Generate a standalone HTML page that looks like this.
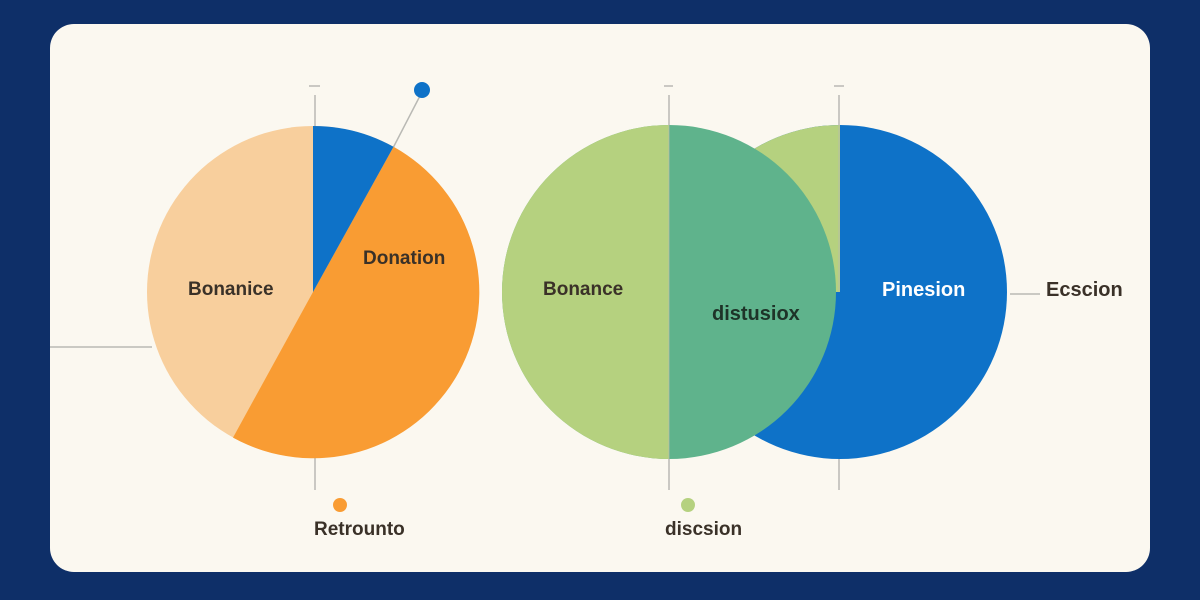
<!DOCTYPE html>
<html><head><meta charset="utf-8"><style>
html,body{margin:0;padding:0;width:1200px;height:600px;background:#0e2f68;overflow:hidden}
svg{display:block}
text{font-family:"Liberation Sans",sans-serif;font-size:19px;font-weight:bold;fill:#3a3128}
</style></head><body>
<svg width="1200" height="600" viewBox="0 0 1200 600">
<rect x="0" y="0" width="1200" height="600" fill="#0e2f68"/>
<rect x="50" y="24" width="1100" height="548" rx="24" fill="#fbf8f0"/>
<g stroke="#b9b9b4" stroke-width="1.5" fill="none">
<line x1="315" y1="95" x2="315" y2="130"/><line x1="315" y1="455" x2="315" y2="490"/>
<line x1="669" y1="95" x2="669" y2="130"/><line x1="669" y1="455" x2="669" y2="490"/>
<line x1="839" y1="95" x2="839" y2="130"/><line x1="839" y1="455" x2="839" y2="490"/>
<line x1="50" y1="347" x2="152" y2="347"/>
<line x1="1010" y1="294" x2="1040" y2="294"/>
<line x1="422" y1="92" x2="393" y2="148"/>
<line x1="309" y1="86" x2="320" y2="86"/><line x1="664" y1="86" x2="673" y2="86"/><line x1="834" y1="86" x2="844" y2="86"/>
</g>
<circle cx="313" cy="292" r="166" fill="#f8cf9d"/>
<path d="M313,292 L393.5,146.8 A166,166 0 0 1 233,437.6 Z" fill="#f99c33"/>
<path d="M313,292 L313,126 A166,166 0 0 1 393.5,146.8 Z" fill="#0e72c8"/>
<circle cx="840" cy="292" r="167" fill="#0e72c8"/>
<path d="M840,292 L840,125 A167,167 0 0 0 673,292 Z" fill="#b5d17f"/>
<circle cx="669" cy="292" r="167" fill="#5fb38c"/>
<path d="M669,125 A167,167 0 0 0 669,459 Z" fill="#b5d17f"/>
<g stroke="#b9b9b4" stroke-width="1.2" fill="none" opacity="0.6">
<line x1="669" y1="125" x2="669" y2="459"/><line x1="839" y1="125" x2="839" y2="292"/>
</g>
<circle cx="422" cy="90" r="8" fill="#0e72c8"/>
<circle cx="340" cy="505" r="7" fill="#f99c33"/>
<circle cx="688" cy="505" r="7" fill="#b5d17f"/>
<text x="188" y="295">Bonanice</text>
<text x="363" y="264">Donation</text>
<text x="543" y="295">Bonance</text>
<text x="712" y="320" style="font-size:20px;fill:#1e3328">distusiox</text>
<text x="882" y="296" style="fill:#fff;font-size:20px">Pinesion</text>
<text x="1046" y="296" style="font-size:20px">Ecscion</text>
<text x="314" y="535">Retrounto</text>
<text x="665" y="535">discsion</text>
</svg>
</body></html>
